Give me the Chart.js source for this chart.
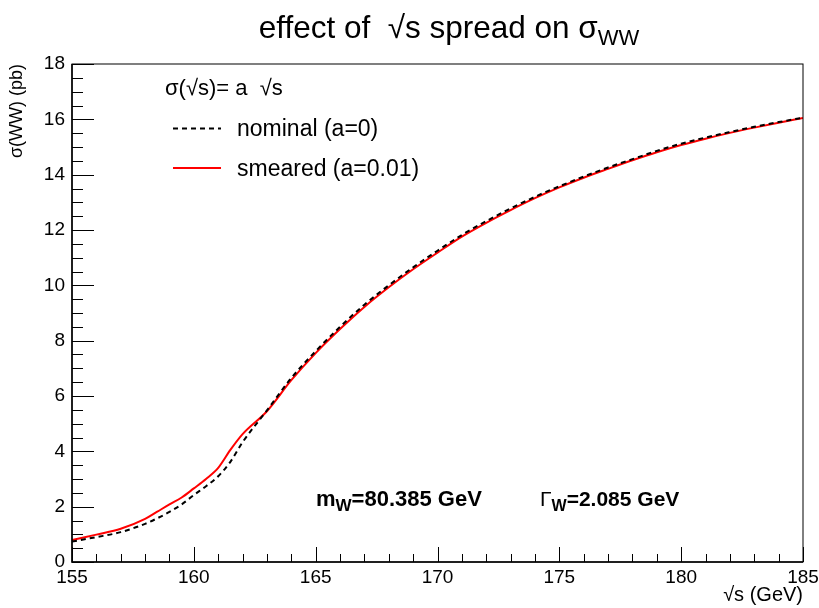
<!DOCTYPE html>
<html>
<head>
<meta charset="utf-8">
<script src="https://cdn.jsdelivr.net/npm/chart.js@4.4.1/dist/chart.umd.min.js"></script>
<style>
  html, body { margin: 0; padding: 0; background: #fff; }
  #wrap { width: 819px; height: 608px; position: relative; }
</style>
</head>
<body>
<div id="wrap"><canvas id="canvas"></canvas></div>
<script>
// sqrt(s) in GeV
var energy = [155, 156, 157, 158, 158.5, 159, 159.5, 160, 160.5, 161, 161.5, 162, 163, 164, 165, 166, 167, 168, 169, 170,
              171, 172, 173, 174, 175, 176, 177, 178, 179, 180, 181, 182, 183, 184, 185];
// sigma(WW) in pb, a = 0
var nominal = [0.74, 0.90, 1.08, 1.38, 1.58, 1.81, 2.08, 2.42, 2.74, 3.10, 3.62, 4.33, 5.48, 6.65, 7.62, 8.50, 9.30, 10.00, 10.65, 11.25,
               11.82, 12.32, 12.78, 13.20, 13.58, 13.93, 14.26, 14.56, 14.86, 15.12, 15.34, 15.54, 15.73, 15.90, 16.06];
// sigma(WW) in pb, a = 0.01
var smeared = [0.79, 0.99, 1.20, 1.56, 1.82, 2.08, 2.33, 2.66, 3.00, 3.40, 4.05, 4.62, 5.45, 6.57, 7.55, 8.42, 9.22, 9.93, 10.58, 11.18,
               11.76, 12.26, 12.72, 13.15, 13.54, 13.89, 14.21, 14.52, 14.81, 15.07, 15.30, 15.51, 15.70, 15.88, 16.05];

var xMin = 155, xMax = 185, xMajor = 5, xMinor = 1;
var yMin = 0, yMax = 18, yMajor = 2, yMinor = 0.5;

var FONT = '"Liberation Sans", Arial, Helvetica, sans-serif';

function puntos(ys) {
    return energy.map(function (e, i) { return { x: e, y: ys[i] }; });
}

// draws a run of text pieces, each {t, size, bold, dy}, starting at x
function trozos(ctx, piezas, x, y) {
    piezas.forEach(function (p) {
        ctx.font = (p.bold ? 'bold ' : '') + p.size + 'px ' + FONT;
        ctx.fillText(p.t, x, y + (p.dy || 0));
        x += ctx.measureText(p.t).width + (p.gap || 0);
    });
    return x;
}

function anchoTrozos(ctx, piezas) {
    var w = 0;
    piezas.forEach(function (p) {
        ctx.font = (p.bold ? 'bold ' : '') + p.size + 'px ' + FONT;
        w += ctx.measureText(p.t).width + (p.gap || 0);
    });
    return w;
}

var marco = {
    id: 'marco',
    afterDraw: function (chart) {
        var ctx = chart.ctx;
        var a = chart.chartArea;
        var xs = chart.scales.x, ys = chart.scales.y;
        ctx.save();

        // frame
        ctx.strokeStyle = '#000';
        ctx.lineWidth = 1;
        ctx.strokeRect(a.left, a.top, a.right - a.left, a.bottom - a.top);

        // tick marks, drawn inside the frame like ROOT
        ctx.beginPath();
        for (var v = xMin; v <= xMax + 1e-9; v += xMinor) {
            var px = Math.round(xs.getPixelForValue(v)) + 0.5;
            var len = (Math.abs(v % xMajor) < 1e-9) ? 15 : 8;
            ctx.moveTo(px, a.bottom);
            ctx.lineTo(px, a.bottom - len);
        }
        for (var w = yMin; w <= yMax + 1e-9; w += yMinor) {
            var py = Math.round(ys.getPixelForValue(w)) + 0.5;
            var l2 = (Math.abs(w % yMajor) < 1e-9) ? 22 : 11;
            ctx.moveTo(a.left, py);
            ctx.lineTo(a.left + l2, py);
        }
        ctx.stroke();
        ctx.lineWidth = 1.5;
        ctx.beginPath();
        ctx.moveTo(a.left, a.top);
        ctx.lineTo(a.left, a.bottom);
        ctx.lineTo(a.right, a.bottom);
        ctx.stroke();

        ctx.fillStyle = '#000';
        ctx.textBaseline = 'alphabetic';
        ctx.textAlign = 'left';

        // title
        var titulo = [
            { t: 'effect of  \u221As spread on \u03C3', size: 31.5 },
            { t: 'WW', size: 22, dy: 7 }
        ];
        var tw = anchoTrozos(ctx, titulo);
        trozos(ctx, titulo, 449 - tw / 2, 38);

        // legend
        trozos(ctx, [{ t: '\u03C3(\u221As)= a  \u221As', size: 22 }], 165, 95);
        ctx.lineWidth = 2;
        ctx.strokeStyle = '#000';
        ctx.setLineDash([5, 4]);
        ctx.beginPath();
        ctx.moveTo(173, 128.5);
        ctx.lineTo(221, 128.5);
        ctx.stroke();
        ctx.setLineDash([]);
        ctx.strokeStyle = '#ff0000';
        ctx.beginPath();
        ctx.moveTo(173, 168);
        ctx.lineTo(221, 168);
        ctx.stroke();
        trozos(ctx, [{ t: 'nominal (a=0)', size: 23 }], 237, 136);
        trozos(ctx, [{ t: 'smeared (a=0.01)', size: 23 }], 237, 176);

        // W parameters
        trozos(ctx, [
            { t: 'm', size: 22, bold: true },
            { t: 'W', size: 17, bold: true, dy: 5 },
            { t: '=80.385 GeV', size: 22, bold: true }
        ], 316, 506);
        trozos(ctx, [
            { t: '\u0393', size: 21 },
            { t: 'W', size: 16, bold: true, dy: 5 },
            { t: '=2.085 GeV', size: 21, bold: true }
        ], 540, 506);

        // x axis title
        var xt = [{ t: '\u221As (GeV)', size: 20 }];
        trozos(ctx, xt, a.right - anchoTrozos(ctx, xt), 601);

        // y axis title
        ctx.save();
        ctx.translate(22, a.top);
        ctx.rotate(-Math.PI / 2);
        ctx.textAlign = 'right';
        ctx.font = '18px ' + FONT;
        ctx.fillText('\u03C3(WW) (pb)', 0, 0);
        ctx.restore();

        ctx.restore();
    }
};

var ctx = document.getElementById('canvas');
var myChart = new Chart(ctx, {
    type: 'scatter',
    data: {
        datasets: [{
            label: 'nominal (a=0)',
            data: puntos(nominal),
            showLine: true,
            borderColor: '#000',
            borderWidth: 2,
            borderDash: [5, 4],
            pointRadius: 0,
            cubicInterpolationMode: 'monotone'
        }, {
            label: 'smeared (a=0.01)',
            data: puntos(smeared),
            showLine: true,
            borderColor: '#ff0000',
            borderWidth: 2,
            pointRadius: 0,
            cubicInterpolationMode: 'monotone'
        }]
    },
    options: {
        responsive: true,
        maintainAspectRatio: false,
        animation: false,
        layout: { padding: { top: 64, right: 16, left: 0, bottom: 0 } },
        plugins: {
            legend: { display: false },
            title: { display: false },
            tooltip: { enabled: false }
        },
        scales: {
            x: {
                type: 'linear',
                min: xMin,
                max: xMax,
                grid: { display: false, drawTicks: false },
                border: { display: false },
                ticks: {
                    stepSize: xMajor,
                    padding: 4,
                    color: '#000',
                    maxRotation: 0,
                    font: { family: FONT, size: 19 }
                },
                afterFit: function (s) { s.height = 46; s.paddingLeft = 0; s.paddingRight = 0; }
            },
            y: {
                type: 'linear',
                min: yMin,
                max: yMax,
                grid: { display: false, drawTicks: false },
                border: { display: false },
                ticks: {
                    stepSize: yMajor,
                    padding: 7,
                    color: '#000',
                    font: { family: FONT, size: 19 }
                },
                afterFit: function (s) { s.width = 72; s.paddingTop = 0; s.paddingBottom = 0; }
            }
        }
    },
    plugins: [marco]
});
</script>
</body>
</html>
